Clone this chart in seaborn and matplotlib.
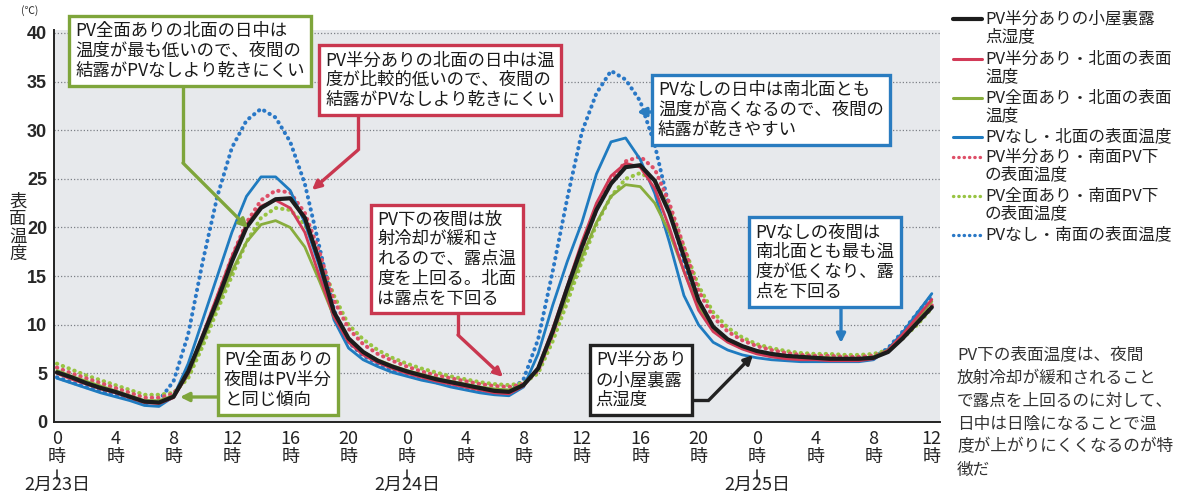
import pandas as pd
import seaborn as sns
import matplotlib.pyplot as plt
import matplotlib.transforms as mtransforms
from matplotlib.lines import Line2D
from matplotlib.patches import FancyArrowPatch

# hourly readings, 0 = 2/23 0時
hours = list(range(61))

dew_half = [5.1, 4.6, 4.0, 3.5, 3.1, 2.6, 2.1, 2.0, 2.6,
            5.2, 8.8, 12.5, 16.5, 20.0, 22.0, 22.9, 23.0, 21.0, 16.5, 11.3,
            8.6, 7.2, 6.3, 5.7, 5.2, 4.8, 4.4, 4.1, 3.8, 3.5, 3.2, 3.1,
            3.8, 5.5, 9.3, 13.8, 18.0, 21.8, 24.5, 26.2, 26.4, 24.8, 21.5, 17.0, 12.5, 9.8, 8.5, 7.8,
            7.3, 7.0, 6.8, 6.7, 6.6, 6.5, 6.5, 6.5, 6.6, 7.2, 8.6, 10.2, 11.8]
half_north = [5.0, 4.4, 3.9, 3.4, 3.0, 2.5, 2.0, 1.9, 2.5,
              5.0, 9.0, 13.0, 17.0, 20.3, 22.2, 22.8, 22.0, 19.5, 15.0, 10.8,
              8.2, 6.9, 6.1, 5.5, 5.0, 4.6, 4.2, 3.9, 3.6, 3.3, 3.0, 2.9,
              3.7, 5.6, 9.6, 14.0, 18.5, 22.5, 25.3, 26.6, 26.2, 24.0, 20.0, 15.5, 11.5, 9.3, 8.2, 7.5,
              7.0, 6.7, 6.5, 6.4, 6.4, 6.3, 6.3, 6.3, 6.5, 7.4, 9.0, 10.8, 12.6]
full_north = [5.3, 4.7, 4.2, 3.7, 3.2, 2.7, 2.2, 2.2, 2.7,
              4.8, 8.3, 12.0, 15.5, 18.5, 20.3, 20.7, 20.0, 18.0, 14.5, 10.8,
              8.5, 7.2, 6.4, 5.8, 5.3, 4.9, 4.5, 4.2, 3.9, 3.6, 3.4, 3.3,
              3.8, 5.4, 9.2, 13.0, 17.0, 20.5, 23.2, 24.4, 24.2, 22.5, 19.5, 15.5, 11.8, 9.6, 8.5, 7.8,
              7.3, 7.0, 6.8, 6.7, 6.6, 6.6, 6.5, 6.5, 6.7, 7.4, 8.9, 10.6, 12.4]
none_north = [4.5, 4.0, 3.5, 3.0, 2.6, 2.2, 1.7, 1.6, 2.6,
              6.0, 10.5, 15.0, 19.5, 23.2, 25.2, 25.2, 23.8, 20.5, 16.0, 10.5,
              7.6, 6.4, 5.7, 5.1, 4.7, 4.3, 4.0, 3.6, 3.3, 3.0, 2.8, 2.7,
              3.6, 7.0, 12.0, 16.5, 20.5, 25.5, 28.8, 29.2, 27.0, 23.5, 18.5, 13.0, 10.0, 8.2, 7.4, 6.9,
              6.6, 6.4, 6.3, 6.2, 6.2, 6.2, 6.2, 6.2, 6.4, 7.5, 9.2, 11.2, 13.2]
half_south = [5.6, 5.0, 4.5, 4.0, 3.5, 3.0, 2.5, 2.5, 2.9,
              5.0, 8.8, 12.8, 17.0, 20.5, 22.8, 23.8, 23.6, 21.5, 17.5, 12.5,
              9.6, 8.0, 7.0, 6.3, 5.7, 5.2, 4.8, 4.5, 4.2, 3.9, 3.7, 3.6,
              3.9, 5.3, 9.0, 13.3, 17.8, 21.8, 24.8, 26.8, 27.3, 26.0, 22.5, 18.0, 13.5, 10.8, 9.3, 8.4,
              7.8, 7.4, 7.1, 6.9, 6.8, 6.8, 6.7, 6.7, 6.8, 7.3, 8.6, 10.2, 12.0]
full_south = [6.0, 5.4, 4.8, 4.3, 3.8, 3.3, 2.8, 2.8, 3.0,
              4.5, 7.8, 11.5, 15.0, 18.5, 21.0, 22.0, 21.8, 20.3, 17.0, 13.0,
              10.0, 8.5, 7.4, 6.6, 6.0, 5.5, 5.1, 4.7, 4.4, 4.1, 3.9, 3.8,
              4.0, 5.0, 8.3, 12.3, 16.5, 20.3, 23.2, 25.0, 25.6, 24.8, 22.0, 18.0, 14.0, 11.3, 9.7, 8.7,
              8.0, 7.6, 7.3, 7.1, 7.0, 7.0, 6.9, 6.9, 7.0, 7.4, 8.6, 10.0, 11.7]
none_south = [4.6, 4.1, 3.6, 3.2, 2.8, 2.4, 1.9, 2.2, 4.2,
              9.0, 16.5, 23.2, 28.2, 31.0, 32.2, 31.3, 28.8, 24.5, 18.0, 11.5,
              8.2, 6.8, 6.0, 5.3, 4.9, 4.5, 4.1, 3.8, 3.5, 3.2, 3.0, 3.0,
              4.4, 8.5, 15.5, 23.0, 29.8, 33.8, 36.1, 35.2, 33.0, 28.5, 22.0, 16.5, 12.0, 9.6, 8.4, 7.6,
              7.1, 6.8, 6.6, 6.5, 6.4, 6.4, 6.4, 6.4, 6.6, 7.6, 9.3, 11.2, 13.0]

series_labels = ["PV半分ありの小屋裏露\n点湿度",
                 "PV半分あり・北面の表面\n温度",
                 "PV全面あり・北面の表面\n温度",
                 "PVなし・北面の表面温度",
                 "PV半分あり・南面PV下\nの表面温度",
                 "PV全面あり・南面PV下\nの表面温度",
                 "PVなし・南面の表面温度"]
series_values = [dew_half, half_north, full_north, none_north, half_south, full_south, none_south]
series_colors = ["#1c1c1c", "#d23a57", "#88ad3d", "#1f7bc0", "#de4f68", "#98c443", "#2a78c6"]
series_dotted = [False, False, False, False, True, True, True]

tick_hours = list(range(0, 61, 4))
tick_labels = [f"{h % 24}\n時" for h in tick_hours]
date_hours = [0, 24, 48]
date_labels = ["2月23日", "2月24日", "2月25日"]

sns.set_style("white")
plt.rcParams['font.family'] = ['Noto Sans CJK JP', 'DejaVu Sans']

W, H = 1178, 494


def fx(x):
    return x / W


def fy(y):
    return 1 - y / H


fig = plt.figure(figsize=(W / 100, H / 100), dpi=100)
ax = fig.add_axes([fx(54), fy(422), (940 - 54) / W, (422 - 30) / H])
ax.set_facecolor("#e7e9ec")

# dotted series first, solid ones on top, black last
order = [6, 5, 4, 3, 2, 1, 0]
for i in order:
    df = pd.DataFrame({"hour": hours, "temp": series_values[i]})
    if series_dotted[i]:
        sns.lineplot(data=df, x="hour", y="temp", ax=ax, color=series_colors[i],
                     linewidth=2.9, linestyle=(0, (0.1, 1.45)), dash_capstyle="round", zorder=3)
    else:
        sns.lineplot(data=df, x="hour", y="temp", ax=ax, color=series_colors[i],
                     linewidth=3.0 if i == 0 else 2.0, zorder=4)

ax.set_xlim(-0.2, 60.56)
ax.set_ylim(0, 40.3)
ax.set_xlabel("")
ax.set_ylabel("")
ax.grid(axis="y", color="#7d8187", linewidth=0.9, linestyle=(0, (1, 1.6)))
ax.grid(axis="x", visible=False)
for side in ["top", "right"]:
    ax.spines[side].set_visible(False)
for side in ["left", "bottom"]:
    ax.spines[side].set_color("#222222")
    ax.spines[side].set_linewidth(1.4)

ax.set_yticks(range(0, 41, 5))
ax.set_yticklabels([str(v) for v in range(0, 41, 5)], fontsize=13, fontweight="bold",
                   family=["Liberation Sans Narrow", "Liberation Sans"])
ax.set_xticks(tick_hours)
ax.set_xticklabels(tick_labels, fontsize=13, linespacing=1.0, color="#222222")
ax.tick_params(axis="both", length=0)
ax.tick_params(axis="x", pad=6)
ax.tick_params(axis="y", pad=5)

# date labels under the axis
trans = mtransforms.blended_transform_factory(ax.transData, fig.transFigure)
for h, lab in zip(date_hours, date_labels):
    ax.add_line(Line2D([h, h], [fy(470), fy(479)], transform=trans, color="#333333",
                       lw=1.2, clip_on=False))
    ax.text(h, fy(485), lab, transform=trans, ha="center", va="center", fontsize=13,
            color="#222222")

fig.text(fx(30), fy(11), "(℃)", fontsize=7.5, ha="center", va="center")
fig.text(fx(18), fy(228), "表\n面\n温\n度", fontsize=12.5, ha="center", va="center",
         linespacing=0.95)

# legend on the right
entry_y = [19, 59, 98, 137, 157, 196, 235]
for lab, col, dotted, y in zip(series_labels, series_colors, series_dotted, entry_y):
    if dotted:
        fig.add_artist(Line2D([fx(953), fx(982)], [fy(y), fy(y)], color=col, lw=2.4,
                              linestyle=(0, (0.1, 1.5)), dash_capstyle="round"))
    else:
        fig.add_artist(Line2D([fx(953), fx(982)], [fy(y), fy(y)], color=col,
                              lw=3.0 if col == "#1c1c1c" else 2.2))
    for k, line in enumerate(lab.split("\n")):
        fig.text(fx(985), fy(y + 18 * k), line, fontsize=12, ha="left", va="center",
                 color="#222222")

note_lines = ["PV下の表面温度は、夜間", "放射冷却が緩和されること", "で露点を上回るのに対して、",
              "日中は日陰になることで温", "度が上がりにくくなるのが特", "徴だ"]
for k, line in enumerate(note_lines):
    fig.text(fx(957), fy(355 + 23 * k), line, fontsize=12.0, ha="left", va="center",
             color="#333333")

# callouts: box text, centre, colour, arrow path in pixels (starts inside the box)
callouts = [
    ("PV全面ありの北面の日中は\n温度が最も低いので、夜間の\n結露がPVなしより乾きにくい",
     (190, 51), "#7ea53b", [(183, 80), (183, 163), (248, 228)]),
    ("PV半分ありの北面の日中は温\n度が比較的低いので、夜間の\n結露がPVなしより乾きにくい",
     (440, 80), "#c9374f", [(358, 110), (358, 150), (312, 190)]),
    ("PVなしの日中は南北面とも\n温度が高くなるので、夜間の\n結露が乾きやすい",
     (771, 110), "#2a7cc0", [(670, 112), (637, 112)]),
    ("PV下の夜間は放\n射冷却が緩和さ\nれるので、露点温\n度を上回る。北面\nは露点を下回る",
     (447, 259), "#c9374f", [(458, 300), (458, 335), (503, 377)]),
    ("PV全面ありの\n夜間はPV半分\nと同じ傾向",
     (278, 380), "#7ea53b", [(222, 397), (180, 397)]),
    ("PV半分あり\nの小屋裏露\n点湿度",
     (641, 380), "#222222", [(680, 400), (709, 400), (753, 355)]),
    ("PVなしの夜間は\n南北面とも最も温\n度が低くなり、露\n点を下回る",
     (825, 262), "#2a7cc0", [(841, 300), (841, 343)]),
]
for text, (cx, cy), col, path in callouts:
    if len(path) > 2:
        fig.add_artist(Line2D([fx(p[0]) for p in path[:-1]], [fy(p[1]) for p in path[:-1]],
                              color=col, lw=2.4, zorder=5, solid_capstyle="butt"))
    fig.add_artist(FancyArrowPatch((fx(path[-2][0]), fy(path[-2][1])),
                                   (fx(path[-1][0]), fy(path[-1][1])),
                                   transform=fig.transFigure, arrowstyle="-|>",
                                   mutation_scale=13, color=col, lw=2.4,
                                   shrinkA=0, shrinkB=0, zorder=5))
    fig.text(fx(cx), fy(cy), text, fontsize=12.5, ha="center", va="center",
             multialignment="left", linespacing=1.12, color="#1a1a1a", zorder=6,
             bbox=dict(boxstyle="square,pad=0.35", fc="white", ec=col, lw=2.4))

fig.savefig("out.png", dpi=100)
